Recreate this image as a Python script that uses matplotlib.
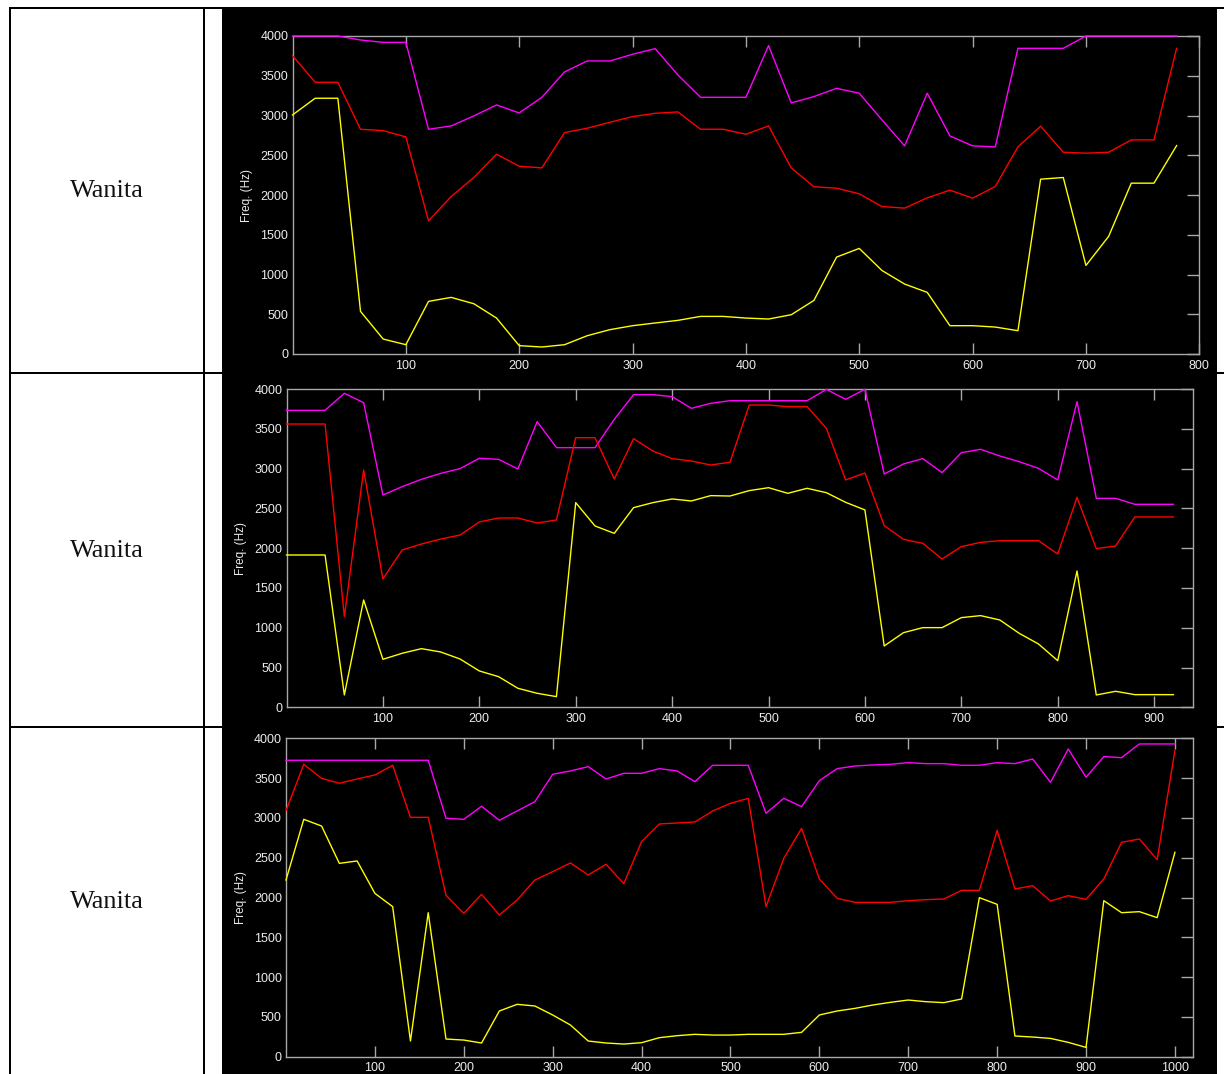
import numpy as np
import matplotlib
matplotlib.use("Agg")
import matplotlib.pyplot as plt
from matplotlib.patches import Rectangle
from matplotlib.lines import Line2D

W, H = 1224, 1074

# Frame times (ms) and formant tracks F1 (yellow), F2 (red), F3 (magenta)
t1 = list(range(0, 781, 20))
f3_1 = [4000, 4000, 4000, 3950, 3920, 3920, 2827, 2869, 2995, 3133, 3032, 3229, 3548, 3686,
        3686, 3770, 3841, 3510, 3229, 3229, 3229, 3879, 3158, 3238, 3342, 3280, 2945, 2618,
        3280, 2743, 2618, 2605, 3845, 3845, 3845, 4000, 4000, 4000, 4000, 4000]
f2_1 = [3753, 3418, 3418, 2827, 2810, 2731, 1675, 1981, 2220, 2513, 2362, 2341, 2785, 2840,
        2915, 2986, 3028, 3045, 2827, 2827, 2764, 2869, 2341, 2103, 2086, 2015, 1855, 1835,
        1964, 2061, 1960, 2107, 2605, 2865, 2538, 2526, 2538, 2693, 2693, 3845]
f1_1 = [3007, 3217, 3217, 536, 188, 117, 662, 712, 632, 452, 105, 88, 117, 230, 306, 356,
        390, 423, 473, 473, 452, 440, 494, 674, 1219, 1328, 1051, 880, 775, 356, 356, 339,
        293, 2199, 2220, 1114, 1479, 2149, 2149, 2622]

t2 = list(range(0, 921, 20))
f3_2 = [3732, 3732, 3732, 3946, 3828, 2668, 2773, 2865, 2940, 2999, 3129, 3116, 2995, 3590,
        3263, 3263, 3263, 3619, 3929, 3929, 3904, 3757, 3820, 3853, 3853, 3853, 3853, 3853,
        3996, 3870, 3996, 2932, 3058, 3125, 2949, 3200, 3242, 3158, 3087, 3003, 2857, 3841,
        2626, 2626, 2551, 2551, 2551]
f2_2 = [3560, 3560, 3560, 1139, 2982, 1613, 1977, 2052, 2115, 2165, 2329, 2379, 2379, 2316,
        2354, 3388, 3388, 2869, 3376, 3221, 3125, 3095, 3045, 3079, 3799, 3799, 3778, 3778,
        3506, 2857, 2945, 2283, 2111, 2061, 1864, 2019, 2073, 2094, 2094, 2094, 1927, 2639,
        1994, 2027, 2392, 2392, 2392]
f1_2 = [1914, 1914, 1914, 155, 1349, 603, 679, 737, 695, 607, 457, 385, 239, 176, 134, 2572,
        2279, 2186, 2509, 2572, 2618, 2593, 2660, 2655, 2723, 2760, 2689, 2752, 2697, 2576,
        2480, 771, 938, 1001, 1001, 1127, 1152, 1097, 930, 796, 586, 1713, 155, 201, 159,
        159, 159]

t3 = list(range(0, 1001, 20))
f3_3 = [3724, 3724, 3724, 3724, 3724, 3724, 3724, 3724, 3724, 2995, 2982, 3146, 2970, 3087,
        3204, 3548, 3590, 3644, 3489, 3560, 3560, 3619, 3590, 3455, 3661, 3661, 3661, 3058,
        3246, 3141, 3468, 3619, 3652, 3665, 3673, 3694, 3682, 3682, 3661, 3661, 3694, 3682,
        3740, 3447, 3866, 3510, 3770, 3757, 3929, 3929, 3929]
f2_3 = [3091, 3673, 3497, 3435, 3489, 3539, 3661, 3007, 3007, 2027, 1801, 2040, 1780, 1969,
        2220, 2325, 2434, 2283, 2417, 2174, 2702, 2924, 2936, 2949, 3087, 3183, 3246, 1885,
        2492, 2869, 2233, 1990, 1939, 1939, 1939, 1960, 1973, 1981, 2090, 2090, 2844, 2107,
        2149, 1956, 2023, 1977, 2233, 2693, 2735, 2475, 3849]
f1_3 = [2220, 2982, 2898, 2429, 2459, 2052, 1885, 197, 1809, 222, 209, 172, 574, 658, 637,
        524, 398, 197, 172, 159, 176, 239, 264, 281, 272, 272, 281, 281, 281, 306, 524, 574,
        607, 649, 683, 712, 691, 679, 725, 1998, 1914, 260, 247, 230, 180, 117, 1960, 1809,
        1822, 1747, 2568]

row_label = "Wanita"
y_label = "Freq. (Hz)"
y_ticks = [0, 500, 1000, 1500, 2000, 2500, 3000, 3500, 4000]

panels = [
    dict(t=t1, f1=f1_1, f2=f2_1, f3=f3_1, xmax=800, xticks=list(range(100, 801, 100)),
         box=(292.5, 36, 1199.3, 354), img=(222, 8, 1217, 372), text_y=191),
    dict(t=t2, f1=f1_2, f2=f2_2, f3=f3_2, xmax=940, xticks=list(range(100, 901, 100)),
         box=(286.5, 389, 1192.7, 707.3), img=(222, 372, 1217, 726), text_y=551),
    dict(t=t3, f1=f1_3, f2=f2_3, f3=f3_3, xmax=1020, xticks=list(range(100, 1001, 100)),
         box=(286, 738.3, 1192.7, 1056.7), img=(222, 726, 1217, 1074), text_y=902),
]

fig = plt.figure(figsize=(W / 100, H / 100), dpi=100, facecolor="white")


def fx(px):
    return px / W


def fy(py):
    return 1 - py / H


def hline(x0, x1, y, lw=2):
    fig.add_artist(Line2D([fx(x0), fx(x1)], [fy(y), fy(y)], transform=fig.transFigure,
                          color="black", lw=lw * 0.72, zorder=1))


def vline(x, y0, y1, lw=2):
    fig.add_artist(Line2D([fx(x), fx(x)], [fy(y0), fy(y1)], transform=fig.transFigure,
                          color="black", lw=lw * 0.72, zorder=1))


# table grid
hline(10, 1224, 8)
vline(10, 8, 1074)
vline(204, 8, 1074)
for yy in (372.5, 726.5):
    hline(10, 1224, yy)

gray = "#a8a8a8"
txt = "#ececec"

for p in panels:
    x0, y0, x1, y1 = p["img"]
    fig.add_artist(Rectangle((fx(x0), fy(y1)), (x1 - x0) / W, (y1 - y0) / H,
                             transform=fig.transFigure, facecolor="black",
                             edgecolor="none", zorder=2))
    fig.text(fx(107), fy(p["text_y"]), row_label, family="Liberation Serif",
             fontsize=19, ha="center", va="center", color="#111111")

    l, t, r, b = p["box"]
    ax = fig.add_axes([fx(l), fy(b), (r - l) / W, (b - t) / H])
    ax.set_zorder(3)
    ax.set_facecolor("black")
    for s in ax.spines.values():
        s.set_color(gray)
        s.set_linewidth(1.0)
        s.set_zorder(2)
    for key, col in (("f3", "#ff00ff"), ("f2", "#ff0000"), ("f1", "#ffff00")):
        ax.plot(p["t"], p[key], color=col, lw=1.0, clip_on=False, zorder=3)
    ax.set_xlim(0, p["xmax"])
    ax.set_ylim(0, 4000)
    ax.set_xticks(p["xticks"])
    ax.set_yticks(y_ticks)
    ax.set_xticklabels([str(v) for v in p["xticks"]])
    ax.set_yticklabels([str(v) for v in y_ticks])
    ax.tick_params(axis="x", direction="in", length=8, width=1, color=gray,
                   top=True, bottom=True, labelbottom=True, labeltop=False,
                   labelcolor=txt, labelsize=9.0, pad=4)
    ax.tick_params(axis="y", direction="in", length=9, width=1, color=gray,
                   left=False, right=True, labelleft=True, labelright=False,
                   labelcolor=txt, labelsize=9.0, pad=3)
    for lab in ax.get_xticklabels() + ax.get_yticklabels():
        lab.set_family("Liberation Sans")
    ax.set_ylabel(y_label, color=txt, fontsize=8.5, family="Liberation Sans", labelpad=5)

fig.savefig("out.png", dpi=100, facecolor="white")
